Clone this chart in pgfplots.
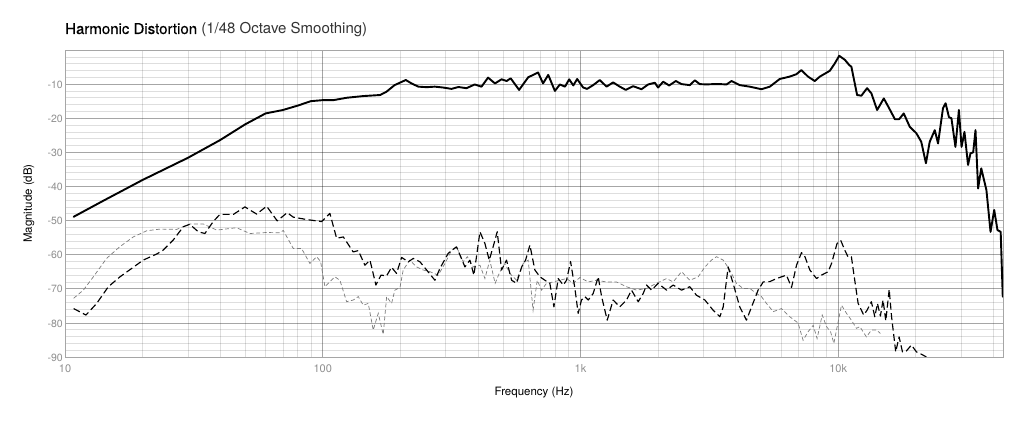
\documentclass[border=0pt]{standalone}
\usepackage{pgfplots}
\usepackage{pgfplotstable}
\pgfplotsset{compat=1.18}
\usepackage{fontspec}
\setmainfont{TeX Gyre Heros}
\newfontface\titlemed[FakeBold=0.3]{TeX Gyre Heros}
\definecolor{majgrid}{HTML}{A6A6A6}
\definecolor{ticklab}{HTML}{8E8E8E}
\definecolor{hthree}{HTML}{7A7A7A}

\pgfplotstableread{
f db
10.8 -48.9
14 -44.3
20 -38.1
30 -31.6
40 -26.4
50 -21.8
60 -18.6
70 -17.6
80 -16.3
90 -15.0
100 -14.7
110 -14.7
124 -14.0
144 -13.5
167 -13.2
177 -12.2
190 -10.3
210 -8.8
221 -9.8
235 -10.75
253 -10.9
272 -10.75
293 -11.0
316 -11.4
336 -10.85
361 -11.2
389 -10.1
413 -10.75
438 -8.1
466 -9.8
494 -8.6
517 -9.1
536 -8.3
578 -11.7
627 -8.0
685 -6.6
716 -9.8
750 -7.3
796 -12.0
832 -10.1
871 -10.75
904 -8.6
938 -10.4
971 -8.5
1024 -11.0
1061 -11.4
1120 -10.3
1189 -8.8
1262 -10.75
1339 -9.5
1421 -10.75
1500 -11.7
1600 -10.6
1725 -11.5
1831 -10.1
1944 -9.6
2000 -11.0
2094 -9.3
2209 -10.4
2344 -9.1
2467 -10.0
2656 -10.3
2778 -8.9
2904 -10.0
3083 -10.1
3273 -10.0
3475 -10.0
3688 -10.1
3856 -9.1
4150 -10.3
4539 -10.75
5037 -11.5
5428 -10.75
5932 -8.5
6486 -7.8
6884 -7.1
7195 -5.9
7637 -7.8
8110 -9.1
8487 -7.8
9278 -6.1
9707 -3.9
10090 -1.7
10620 -2.9
11030 -4.4
11250 -4.9
11840 -13.2
12300 -13.4
12940 -11.2
13450 -12.7
14160 -17.6
15030 -14.2
15770 -17.1
16600 -20.3
17230 -20.3
17960 -18.6
18950 -22.5
20100 -24.4
21000 -26.9
21900 -33.2
22650 -26.9
23700 -23.5
24400 -27.4
25500 -17.1
26100 -15.6
26900 -19.7
27500 -20.0
28500 -28.4
29400 -17.6
30100 -28.4
30900 -24.0
31900 -33.7
32600 -30.3
33400 -30.0
34100 -23.5
34900 -40.6
35900 -34.7
37600 -41.1
39000 -53.3
40300 -46.9
41500 -52.8
42700 -53.3
43500 -72.3
}\fund

\pgfplotstableread{
f db
10.8 -75.8
12.06 -77.7
13.27 -74.3
14.73 -69.4
16.34 -66.5
18.41 -63.7
20.1 -61.6
22.7 -59.8
24.0 -58.7
26.3 -55.7
28.8 -51.8
30.5 -51.1
32.9 -53.3
34.9 -53.8
37.6 -50.3
39.9 -48.2
45.0 -48.2
49.9 -46.0
55.4 -48.1
60.6 -45.8
66.6 -50.1
72.8 -47.7
76.9 -49.0
86.6 -49.7
99.0 -50.3
106.6 -47.9
113.2 -55.2
120.2 -54.8
131.3 -59.2
137.4 -58.8
145.8 -63.1
152.5 -61.6
160.8 -68.9
168.3 -66.0
177 -66.2
185 -63.7
193.4 -65.5
202.3 -60.8
214.6 -62.1
224.6 -61.1
238.4 -62.1
253 -64.5
272.4 -67.5
285 -64.0
306.9 -59.6
330.4 -57.7
356.3 -63.6
372.4 -61.6
386 -66.0
407.4 -53.3
425.8 -56.7
442.6 -61.6
458.3 -57.7
475.3 -53.3
494.3 -64.5
516.6 -61.6
540.5 -67.5
565 -68.4
591.5 -63.6
612.4 -61.6
636.5 -57.2
665.5 -64.5
696.6 -66.5
727.8 -67.5
760.8 -68.4
788.8 -75.3
819.6 -67.0
857.5 -68.9
883.1 -67.5
915.5 -62.0
951.5 -69.9
979.7 -77.2
1009 -73.3
1040 -72.3
1072 -73.3
1120 -71.4
1172 -66.5
1208 -72.3
1270 -79.2
1339 -73.3
1421 -75.3
1509 -73.3
1578 -70.4
1675 -73.8
1751 -71.4
1805 -68.9
1888 -70.4
2001 -68.4
2158 -70.4
2289 -68.9
2467 -70.4
2656 -69.4
2819 -71.9
3040 -73.3
3273 -76.3
3475 -78.2
3580 -75.3
3741 -63.6
3911 -68.4
4150 -75.3
4406 -79.2
4613 -75.3
4889 -70.4
5117 -68.0
5431 -67.9
5767 -67.0
6298 -66.0
6591 -69.6
6891 -63.1
7206 -59.4
7430 -60.6
7763 -64.5
8241 -67.0
8614 -66.0
9144 -65.0
9420 -62.6
9900 -56.7
10240 -55.9
10610 -58.7
10910 -60.6
11250 -60.6
11490 -65.5
11950 -74.3
12560 -77.7
12940 -76.3
13450 -73.8
13870 -78.2
14200 -74.3
14580 -78.0
14930 -73.3
15300 -79.4
15770 -70.2
16110 -78.2
16720 -88.5
17230 -84.1
17760 -88.5
18400 -88.2
19240 -86.5
20120 -88.5
21040 -89.2
21990 -90.0
}\htwo

\pgfplotstableread{
f db
10.8 -72.8
11.78 -70.4
12.88 -66.5
14.5 -61.1
16.3 -57.7
18.4 -54.8
20.75 -53.0
23.4 -52.5
27.1 -52.6
30.5 -51.0
34.4 -51.0
38.8 -52.8
46.3 -52.1
52.2 -53.8
60.6 -53.5
68.2 -53.6
70.3 -52.9
76.9 -58.2
82.8 -58.2
89.2 -62.6
94.7 -60.6
98.1 -62.0
102 -69.4
111.5 -66.5
116.6 -67.5
123.8 -73.8
131.3 -73.3
137.4 -72.3
143.6 -74.8
150.2 -74.3
157 -82.1
164.2 -77.2
171.7 -83.4
177 -72.3
185 -74.3
190.5 -70.4
199.5 -69.6
205.2 -64.5
217.8 -61.6
231.4 -63.6
245.5 -64.5
260.6 -65.0
280.5 -66.0
297.9 -62.6
316.2 -58.7
330.4 -57.7
351 -62.1
363.9 -60.6
384 -63.6
407.4 -63.1
425.8 -67.0
444.8 -61.6
466.6 -68.4
486.9 -65.0
509.2 -62.6
532.4 -65.5
565 -67.5
599.2 -62.6
627 -61.6
654.8 -76.3
679.7 -67.5
706.3 -70.4
738.5 -68.4
783.4 -68.0
832 -67.5
883 -67.0
937 -68.4
995 -66.7
1072 -68.0
1153 -67.5
1262 -68.0
1380 -68.0
1509 -69.4
1651 -70.4
1805 -69.9
1973 -68.4
2158 -67.0
2289 -68.0
2467 -65.0
2656 -67.5
2862 -66.5
3040 -63.6
3222 -61.6
3371 -60.6
3580 -61.6
3797 -64.5
4030 -68.4
4276 -69.9
4539 -69.9
4820 -71.4
5037 -72.3
5270 -74.3
5597 -76.7
6027 -75.8
6486 -78.2
6983 -80.0
7310 -85.1
7640 -82.6
8000 -80.7
8280 -84.6
8670 -77.7
9010 -81.1
9340 -82.6
9620 -86.0
9910 -81.1
10300 -74.8
10770 -77.2
11250 -79.2
11770 -81.6
12130 -81.1
12870 -84.1
13460 -82.1
14080 -82.1
14590 -83.1
}\hthreetab

\begin{document}
\begin{tikzpicture}
\path[use as bounding box] (-65pt,-70pt) rectangle (959pt,357pt);
\begin{axis}[
  at={(0pt,0pt)}, anchor=south west,
  scale only axis, width=938pt, height=307pt,
  xmode=log, log basis x=10,
  xmin=10, xmax=43600, ymin=-90, ymax=0,
  xtick={10,100,1000,10000}, xticklabels={10,100,1k,10k},
  minor xtick={20,30,40,50,60,70,80,90,200,300,400,500,600,700,800,900,2000,3000,4000,5000,6000,7000,8000,9000,20000,30000,40000},
  ytick={-90,-80,-70,-60,-50,-40,-30,-20,-10},
  yticklabels={-90,-80,-70,-60,-50,-40,-30,-20,-10},
  minor ytick={-88,-86,-84,-82,-78,-76,-74,-72,-68,-66,-64,-62,-58,-56,-54,-52,-48,-46,-44,-42,-38,-36,-34,-32,-28,-26,-24,-22,-18,-16,-14,-12,-8,-6,-4,-2},
  grid=both,
  major grid style={black, opacity=0.35, line width=0.75pt},
  minor grid style={black, opacity=0.13, line width=0.6pt},
  axis line style={majgrid, line width=0.8pt},
  major tick length=0pt, minor tick length=0pt,
  xticklabel style={ticklab, font=\fontsize{11}{13}\selectfont, anchor=base, inner sep=0pt, yshift=-16pt},
  yticklabel style={ticklab, font=\fontsize{10.5}{12}\selectfont, anchor=mid east, inner sep=0pt, xshift=-2pt, yshift=-1.5pt},
  xlabel={Frequency (Hz)},
  ylabel={Magnitude (dB)},
  xlabel style={at={(axis description cs:0.5,-0.1173)}, anchor=center, font=\fontsize{11.5}{13}\selectfont},
  ylabel style={at={(axis description cs:-0.0384,0.5)}, anchor=center, rotate=0, font=\fontsize{11.5}{13}\selectfont},
  title={{\titlemed Harmonic Distortion} {\color{black!80}(1/48 Octave Smoothing)}},
  title style={at={(axis description cs:0,1)}, anchor=base west, inner sep=0pt, yshift=10pt, font=\fontsize{15}{17}\selectfont},
  clip=true,
]
\addplot[hthree, line width=0.7pt, dash pattern=on 4pt off 2.5pt] table[x=f, y=db] {\hthreetab};
\addplot[black, line width=1.15pt, dash pattern=on 7pt off 3.5pt, line join=round] table[x=f, y=db] {\htwo};
\addplot[black, line width=1.9pt, line join=round, line cap=round] table[x=f, y=db] {\fund};
\end{axis}
\end{tikzpicture}
\end{document}
